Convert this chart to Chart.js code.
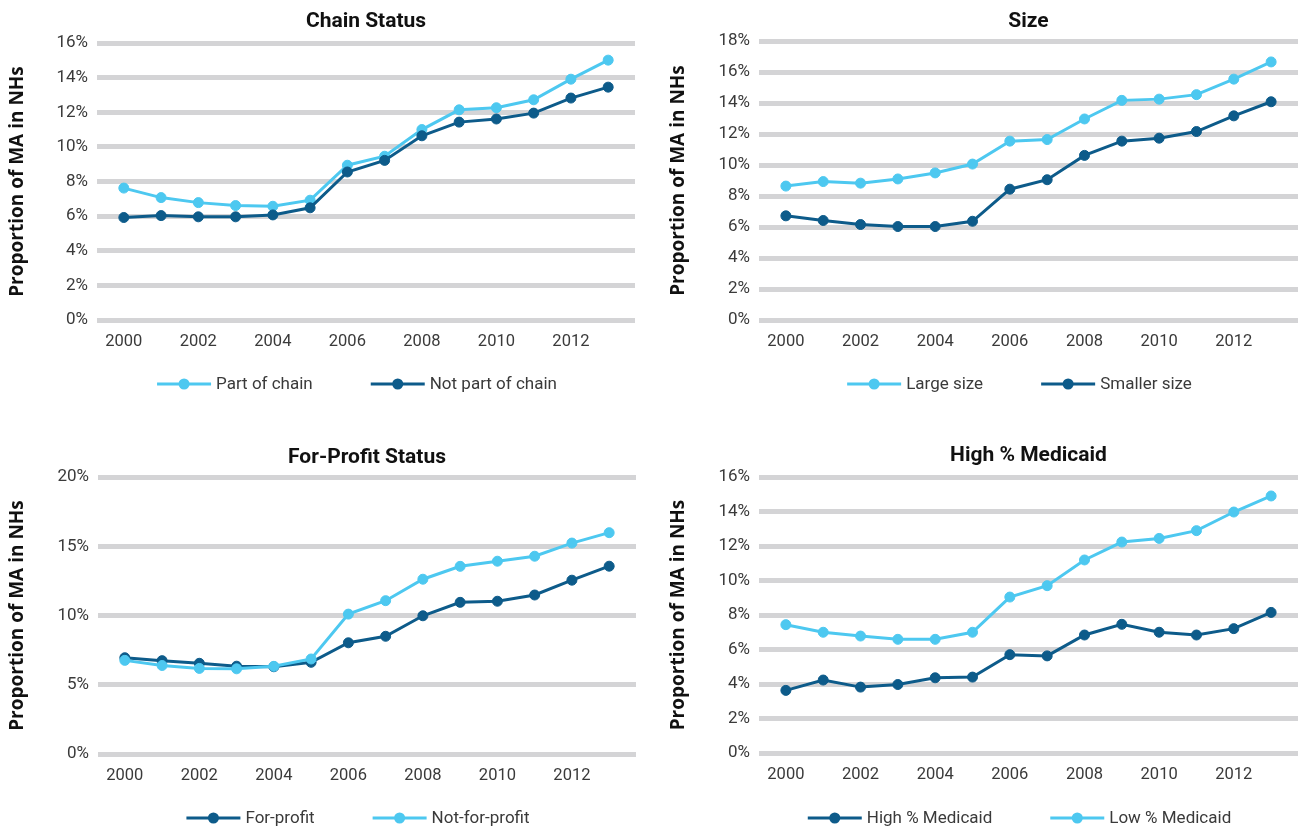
<!DOCTYPE html>
<html>
<head>
<meta charset="utf-8">
<title>Proportion of MA in NHs</title>
<script src="https://cdn.jsdelivr.net/npm/chart.js@4.4.1/dist/chart.umd.min.js"></script>
<style>
  html, body { margin: 0; padding: 0; background: #fff; overflow: hidden; }
  body { width: 1299px; height: 828px; position: relative; }
  .panel { position: absolute; }
</style>
</head>
<body>
<div class="panel" style="left:0;top:0;width:650px;height:414px"><canvas id="chainChart"></canvas></div>
<div class="panel" style="left:650px;top:0;width:654px;height:414px"><canvas id="sizeChart"></canvas></div>
<div class="panel" style="left:0;top:414px;width:650px;height:414px"><canvas id="profitChart"></canvas></div>
<div class="panel" style="left:650px;top:414px;width:654px;height:414px"><canvas id="medicaidChart"></canvas></div>
<script>
// data (percent)
const years = [2000, 2001, 2002, 2003, 2004, 2005, 2006, 2007, 2008, 2009, 2010, 2011, 2012, 2013];
const yearTicks = [2000, 2002, 2004, 2006, 2008, 2010, 2012];

const partOfChain    = [7.62, 7.07, 6.78, 6.61, 6.57, 6.92, 8.94, 9.46, 11.0, 12.14, 12.26, 12.72, 13.91, 15.01];
const notPartOfChain = [5.92, 6.03, 5.96, 5.96, 6.07, 6.48, 8.55, 9.22, 10.64, 11.43, 11.61, 11.95, 12.82, 13.45];

const largeSize   = [8.64, 8.93, 8.83, 9.10, 9.49, 10.06, 11.54, 11.64, 12.97, 14.17, 14.25, 14.54, 15.54, 16.65];
const smallerSize = [6.72, 6.42, 6.16, 6.03, 6.03, 6.37, 8.44, 9.05, 10.62, 11.54, 11.73, 12.16, 13.17, 14.08];

const forProfit    = [6.95, 6.74, 6.55, 6.34, 6.30, 6.62, 8.03, 8.50, 9.98, 10.95, 11.03, 11.48, 12.55, 13.56];
const notForProfit = [6.76, 6.39, 6.18, 6.15, 6.33, 6.86, 10.10, 11.07, 12.62, 13.55, 13.92, 14.28, 15.23, 15.98];

const highMedicaid = [3.63, 4.23, 3.82, 3.97, 4.36, 4.40, 5.70, 5.63, 6.84, 7.46, 7.00, 6.84, 7.21, 8.15];
const lowMedicaid  = [7.44, 7.00, 6.78, 6.59, 6.59, 7.00, 9.04, 9.70, 11.19, 12.23, 12.44, 12.89, 13.97, 14.90];

const ticks16 = [0, 2, 4, 6, 8, 10, 12, 14, 16];
const ticks18 = [0, 2, 4, 6, 8, 10, 12, 14, 16, 18];
const ticks20 = [0, 5, 10, 15, 20];

const LIGHT = "#4DC8F0";
const DARK = "#0D5B8A";
const FONT = "Roboto";

// legend drawn as line + dot, centred under the plot area
const lineLegend = {
  id: "lineLegend",
  afterDraw(chart, args, opts) {
    const { ctx, chartArea } = chart;
    const sets = chart.data.datasets;
    ctx.save();
    ctx.font = `17px ${FONT}`;
    const widths = sets.map((d) => 54 + 5 + ctx.measureText(d.label).width);
    const total = widths.reduce((a, b) => a + b, 0) + opts.gap * (sets.length - 1);
    let x = (chartArea.left + chartArea.right) / 2 + opts.shift - total / 2;
    const y = opts.y;
    sets.forEach((d, i) => {
      ctx.strokeStyle = d.borderColor;
      ctx.lineWidth = 3;
      ctx.beginPath();
      ctx.moveTo(x, y);
      ctx.lineTo(x + 54, y);
      ctx.stroke();
      ctx.fillStyle = d.borderColor;
      ctx.beginPath();
      ctx.arc(x + 27, y, 5.5, 0, Math.PI * 2);
      ctx.fill();
      ctx.fillStyle = "#3a3a3a";
      ctx.textBaseline = "middle";
      ctx.textAlign = "left";
      ctx.fillText(d.label, x + 59, y + 1);
      x += widths[i] + opts.gap;
    });
    ctx.restore();
  },
};

function makePanel(id, p) {
  const W = p.width, H = 414;
  return new Chart(document.getElementById(id), {
    type: "line",
    data: {
      datasets: p.series.map((vals, i) => ({
        label: p.labels[i],
        data: years.map((yr, j) => ({ x: yr, y: vals[j] })),
        borderColor: p.colors[i],
        backgroundColor: p.colors[i],
        pointBackgroundColor: p.colors[i],
        pointBorderColor: p.colors[i],
        borderWidth: 3,
        pointRadius: 5,
        pointBorderWidth: 1,
        tension: 0,
        order: p.series.length - 1 - i,
      })),
    },
    options: {
      responsive: true,
      maintainAspectRatio: false,
      animation: false,
      layout: { padding: { left: 0, top: 0, right: W - p.area.right, bottom: H - p.area.bottom - 34 } },
      plugins: {
        legend: { display: false },
        tooltip: { enabled: false },
        title: {
          display: true,
          text: p.title,
          fullSize: false,
          color: "#111",
          font: { family: FONT, size: 21, weight: "bold" },
          padding: { top: p.titleY - 12.6, bottom: p.area.top - p.titleY - 12.6 },
        },
        lineLegend: { y: p.legendY, gap: 58, shift: -9 },
      },
      scales: {
        x: {
          type: "linear",
          min: 2000 - 0.72,
          max: 2013 + 0.72,
          grid: { display: false },
          border: { display: false },
          afterBuildTicks: (s) => { s.ticks = yearTicks.map((v) => ({ value: v })); },
          afterFit: (s) => { s.height = 34; },
          ticks: {
            autoSkip: false,
            maxRotation: 0,
            padding: 4,
            color: "#3a3a3a",
            font: { family: FONT, size: 16.5 },
            callback: (v) => String(v),
          },
        },
        y: {
          min: p.yTicks[0],
          max: p.yTicks[p.yTicks.length - 1],
          grid: { color: "#d4d4d6", lineWidth: 5, drawTicks: false },
          border: { display: false },
          afterFit: (s) => { s.width = p.area.left; },
          ticks: {
            stepSize: p.yTicks[1] - p.yTicks[0],
            padding: 9,
            color: "#3a3a3a",
            font: { family: FONT, size: 17 },
            callback: (v) => v + "%",
          },
          title: {
            display: true,
            text: "Proportion of MA in NHs",
            color: "#111",
            font: { family: "Open Sans", size: 19, weight: "bold" },
            padding: { top: p.axisTitleX - 11.4, bottom: 0 },
          },
        },
      },
    },
    plugins: [lineLegend],
  });
}

makePanel("chainChart", {
  title: "Chain Status",
  labels: ["Part of chain", "Not part of chain"],
  series: [partOfChain, notPartOfChain],
  colors: [LIGHT, DARK],
  yTicks: ticks16,
  width: 650,
  area: { left: 97, right: 635, top: 43, bottom: 320 },
  titleY: 22,
  axisTitleX: 18,
  legendY: 384,
});

makePanel("sizeChart", {
  title: "Size",
  labels: ["Large size", "Smaller size"],
  series: [largeSize, smallerSize],
  colors: [LIGHT, DARK],
  yTicks: ticks18,
  width: 654,
  area: { left: 109, right: 653, top: 41, bottom: 320 },
  titleY: 22,
  axisTitleX: 29,
  legendY: 384,
});

makePanel("profitChart", {
  title: "For-Profit Status",
  labels: ["For-profit", "Not-for-profit"],
  series: [forProfit, notForProfit],
  colors: [DARK, LIGHT],
  yTicks: ticks20,
  width: 650,
  area: { left: 98, right: 636, top: 63, bottom: 340 },
  titleY: 44,
  axisTitleX: 18,
  legendY: 404,
});

makePanel("medicaidChart", {
  title: "High % Medicaid",
  labels: ["High % Medicaid", "Low % Medicaid"],
  series: [highMedicaid, lowMedicaid],
  colors: [DARK, LIGHT],
  yTicks: ticks16,
  width: 654,
  area: { left: 109, right: 653, top: 63, bottom: 339 },
  titleY: 42,
  axisTitleX: 29,
  legendY: 404,
});
</script>
</body>
</html>
